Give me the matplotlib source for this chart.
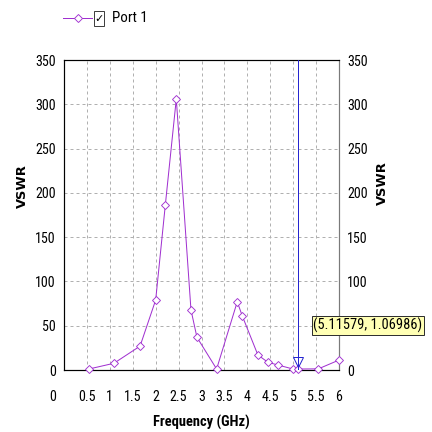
import matplotlib
matplotlib.use('Agg')
import matplotlib.pyplot as plt
import matplotlib.transforms as mtransforms
from matplotlib.lines import Line2D
from matplotlib.patches import Rectangle

plt.rcParams['font.family'] = ['Roboto Condensed', 'Liberation Sans', 'DejaVu Sans']

# Port 1 VSWR vs frequency
freq = [0.55, 1.09, 1.66, 2.00, 2.21, 2.45, 2.77, 2.90, 3.33, 3.78, 3.89,
        4.23, 4.45, 4.67, 4.99, 5.10, 5.55, 5.99]
vswr = [1.2, 7.6, 27, 79, 186, 306, 68, 37, 1.1, 77, 61,
        17, 8.7, 5.6, 1.2, 1.1, 1.3, 11]

marker_x = 5.11579
marker_y = 1.06986

x_ticks = [0, 0.5, 1, 1.5, 2, 2.5, 3, 3.5, 4, 4.5, 5, 5.5, 6]
x_labels = ['0', '0.5', '1', '1.5', '2', '2.5', '3', '3.5', '4', '4.5', '5', '5.5', '6']
y_ticks = [0, 50, 100, 150, 200, 250, 300, 350]

PURPLE = '#a030d0'
BLUE = '#2626d0'

fig = plt.figure(figsize=(6, 6), dpi=72)
ax = fig.add_axes([64 / 432, 62 / 432, 275 / 432, 310 / 432])

ax.plot(freq, vswr, color=PURPLE, lw=1.0, marker='D', ms=5.5,
        mfc='white', mec=PURPLE, mew=0.9, zorder=4, clip_on=False)

# marker line
ax.axvline(marker_x, color=BLUE, lw=1.0, zorder=5)
tri = mtransforms.offset_copy(ax.transData, fig=fig, x=0, y=7, units='dots')
ax.plot([marker_x], [marker_y], marker='v', ms=10, mfc='none', mec=BLUE,
        mew=1.0, transform=tri, zorder=6, clip_on=False)
ax.annotate(f'({marker_x:.5f}, {marker_y:.5f})', xy=(5.44, 50),
            xycoords='data', ha='left', va='center', fontsize=14.5,
            annotation_clip=False, zorder=7,
            bbox=dict(boxstyle='square,pad=0.12', fc='#ffffb4', ec='#303030', lw=1))

ax.set_xlim(0, 6)
ax.set_ylim(0, 350)
ax.set_xticks(x_ticks)
ax.set_xticklabels(x_labels)
ax.set_yticks(y_ticks)
ax.tick_params(length=0, labelsize=14, colors='black')
ax.tick_params(axis='x', pad=20)
ax.tick_params(axis='y', pad=8, labelright=True)
ax.grid(True, color='#b0b0b0', ls=(0, (3, 3)), lw=1.0)

for side in ['left', 'bottom', 'top']:
    ax.spines[side].set_color('black')
    ax.spines[side].set_linewidth(1.2)
ax.spines['right'].set_color('#7a7a7a')
ax.spines['right'].set_linewidth(1.2)

# first x label sits a bit left
lbl0 = ax.get_xticklabels()[0]
lbl0.set_transform(lbl0.get_transform() + mtransforms.ScaledTranslation(-11 / 72, 0, fig.dpi_scale_trans))

ax.set_xlabel('Frequency (GHz)', fontsize=14.5, fontweight='bold', labelpad=11)
fig.text(22 / 432, 1 - 186 / 432, 'VSWR', rotation=90, fontsize=13,
         fontweight='bold', ha='center', va='center', family=['DejaVu Sans'])
fig.text(382 / 432, 1 - 183 / 432, 'VSWR', rotation=90, fontsize=13,
         fontweight='bold', ha='center', va='center', family=['DejaVu Sans'])

# legend header
fig.add_artist(Line2D([63 / 432, 92 / 432], [1 - 18 / 432] * 2, color=PURPLE, lw=1.0,
                      transform=fig.transFigure))
fig.add_artist(Line2D([78 / 432], [1 - 18 / 432], color=PURPLE, marker='D', ms=6,
                      mfc='white', mec=PURPLE, mew=0.9, transform=fig.transFigure))
fig.add_artist(Rectangle((94 / 432, 1 - 26 / 432), 10 / 432, 15 / 432, fill=False,
                         ec='#404040', lw=1.0, transform=fig.transFigure))
fig.text(99 / 432, 1 - 19 / 432, '\u2713', fontsize=11, fontweight='bold',
         ha='center', va='center', family=['DejaVu Sans'])
fig.text(112 / 432, 1 - 18 / 432, 'Port 1', fontsize=15, ha='left', va='center')

fig.savefig('out.png', dpi=72, facecolor='white')
